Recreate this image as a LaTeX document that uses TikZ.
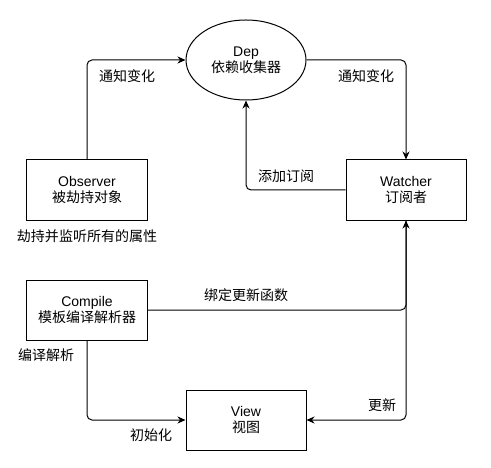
\documentclass[tikz,border=0pt]{standalone}
\usepackage{fontspec}
\setmainfont{Liberation Sans}
\newfontfamily\cjk{Noto Sans CJK SC}
\usetikzlibrary{shapes.geometric,arrows.meta}
\begin{document}
\begin{tikzpicture}[x=1bp,y=-1bp,
			every node/.style = {align=center, font=\fontsize{14bp}{16bp}\selectfont},
			box/.style = {draw, line width=1bp, minimum width=120bp, minimum height=60bp, inner sep=0pt},
			lbl/.style = {inner sep=0pt, font=\fontsize{14bp}{16bp}\selectfont\cjk},
			link/.style = {draw, line width=1bp, rounded corners=5bp, -{Stealth[length=8bp,width=7bp,inset=2.5bp]}}]
			
			\useasboundingbox (0,0) rectangle (491,468);
			
			\node[draw, ellipse, line width=1bp, minimum width=120bp, minimum height=80bp, inner sep=0pt] (dep) at (246,60) {Dep\\{\cjk 依赖收集器}};
			\node[box] (obs) at (87,190) {Observer\\{\cjk 被劫持对象}};
			\node[box] (wat) at (406,190) {Watcher\\{\cjk 订阅者}};
			\node[box] (cmp) at (87,310) {Compile\\{\cjk 模板编译解析器}};
			\node[box] (view) at (246,420) {View\\{\cjk 视图}};
			
			\draw[link] (obs.north) |- (dep.west);
			\draw[link] (dep.east) -| (wat.north);
			\draw[link] (wat.west) -| (dep.south);
			\draw[link] (cmp.east) -| (wat.south);
			\draw[link] (wat.south) |- (view.east);
			\draw[link] (cmp.south) |- (view.west);
			
			\node[lbl] (l1) at (127,76) {通知变化};
			\node[lbl] (l2) at (366,76) {通知变化};
			\node[lbl] (l3) at (286,176) {添加订阅};
			\node[lbl] (l4) at (87,236) {劫持并监听所有的属性};
			\node[lbl] (l5) at (246,295) {绑定更新函数};
			\node[lbl] (l6) at (46,355) {编译解析};
			\node[lbl] (l7) at (151,435) {初始化};
			\node[lbl] (l8) at (382,405) {更新};
\end{tikzpicture}
\end{document}
